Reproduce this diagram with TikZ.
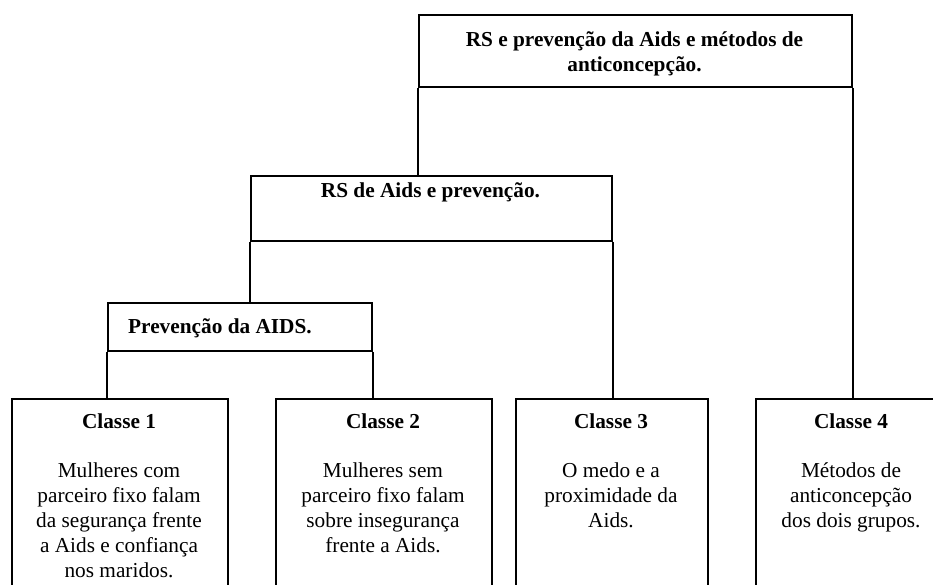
\documentclass[tikz,border=0pt]{standalone}
\usepackage{fontspec}
\setmainfont{Liberation Serif}
\tikzset{
  box/.style={draw=black, line width=1.8pt, rectangle, inner sep=0pt, anchor=north west},
  link/.style={draw=black, line width=2pt},
  txt/.style={inner sep=0pt, anchor=north, align=center, font=\fontsize{21.3}{25}\selectfont},
  btxt/.style={txt, font=\fontsize{21.3}{25}\selectfont\bfseries}
}
\begin{document}
\begin{tikzpicture}[x=1pt, y=-1pt]
\useasboundingbox (0,0) rectangle (933,584);
\clip (0,0) rectangle (933,584);
% boxes
\node[box, minimum width=433pt, minimum height=72pt] (top) at (418,14) {};
\node[box, minimum width=361pt, minimum height=65pt] (mid) at (250,175) {};
\node[box, minimum width=264pt, minimum height=48pt] (prev) at (107,302) {};
\node[box, minimum width=216pt, minimum height=250pt] (c1) at (11,398) {};
\node[box, minimum width=216pt, minimum height=250pt] (c2) at (275,398) {};
\node[box, minimum width=192pt, minimum height=250pt] (c3) at (515,398) {};
\node[box, minimum width=192pt, minimum height=250pt] (c4) at (755,398) {};
% connectors
\draw[link] (top.south west) -- (top.south west |- mid.north);
\draw[link] (top.south east) -- (top.south east |- c4.north);
\draw[link] (mid.south west) -- (mid.south west |- prev.north);
\draw[link] (mid.south east) -- (mid.south east |- c3.north);
\draw[link] (prev.south west) -- (prev.south west |- c1.north);
\draw[link] (prev.south east) -- (prev.south east |- c2.north);
% texts
\node[btxt] (ttop) at (634.5,28.5) {\strut RS e prevenção da Aids e métodos de\\anticoncepção.};
\node[btxt] (tmid) at (430.5,179.5) {\strut RS de Aids e prevenção.};
\node[btxt, anchor=north west] (tprev) at (128,315.5) {\strut Prevenção da AIDS.};
\node[btxt] (h1) at (119,410.5) {\strut Classe 1};
\node[btxt] (h2) at (383,410.5) {\strut Classe 2};
\node[btxt] (h3) at (611,410.5) {\strut Classe 3};
\node[btxt] (h4) at (851,410.5) {\strut Classe 4};
\node[txt] (b1) at (119,459.5) {\strut Mulheres com\\parceiro fixo falam\\da segurança frente\\a Aids e confiança\\nos maridos.};
\node[txt] (b2) at (383,459.5) {\strut Mulheres sem\\parceiro fixo falam\\sobre insegurança\\frente a Aids.};
\node[txt] (b3) at (611,459.5) {\strut O medo e a\\proximidade da\\Aids.};
\node[txt] (b4) at (851,459.5) {\strut Métodos de\\anticoncepção\\dos dois grupos.};
\end{tikzpicture}
\end{document}
